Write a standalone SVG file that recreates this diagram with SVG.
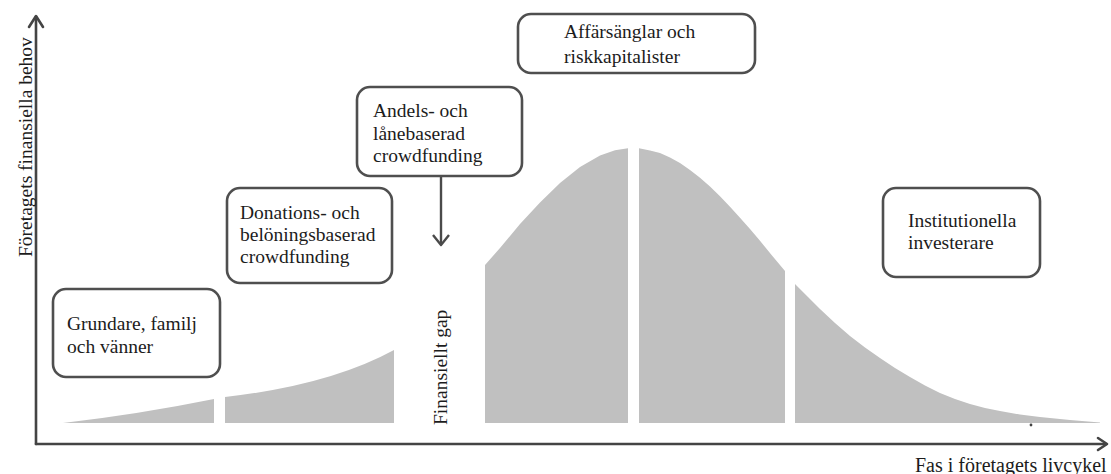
<svg xmlns="http://www.w3.org/2000/svg" width="1111" height="474" viewBox="0 0 1111 474">
<defs>
<style>
.box{fill:#ffffff;stroke:#4f4f4f;stroke-width:2.6}
.t{font-family:"Liberation Serif","Times New Roman",serif;font-size:19.5px;fill:#1c1c1c}
.ax{fill:none;stroke:#444;stroke-width:2.6;stroke-linecap:round;stroke-linejoin:round}
.area{fill:#c0c0c0;stroke:none}
.conn{fill:none;stroke:#4a4a4a;stroke-width:2.4;stroke-linejoin:round}
</style>
</defs>
<rect width="1111" height="474" fill="#ffffff"/>
<g id="axes">
<path class="ax" d="M36,444 L36,17"/>
<path class="ax" d="M29,27 L36,16 L43,27"/>
<path class="ax" d="M36,444 L1106,444"/>
<path class="ax" d="M1098,438 L1107,444 L1098,450"/>
<text class="t" transform="translate(32,257) rotate(-90)">Företagets finansiella behov</text>
<text class="t" x="915" y="472" style="font-size:20px">Fas i företagets livcykel</text>
</g>
<g id="curve">
<path class="area" d="M63,423 Q140,414 214,399 L214,423 Z"/>
<path class="area" d="M225,423 L225,397 Q330,385 394,350 L394,423 Z"/>
<path class="area" d="M485,423 L485,265 L500,248 L520,224 L540,202.5 L560,183 L580,167 L600,155.5 L615,150.3 L628,148.2 L628,423 Z"/>
<path class="area" d="M639,423 L639,148.3 L650,150.5 L660,153.1 L670,157.5 L680,163.1 L690,170 L700,177.8 L710,186.5 L720,196.3 L730,206.8 L740,217.7 L750,229 L760,240.8 L772,255.5 L785,271 L785,423 Z"/>
<path class="area" d="M795,423 L795,284 L808,297 L820,309 L835,323 L850,336 L865,347.5 L880,358 L895,368 L910,377 L925,385.5 L940,393 L955,399 L970,404 L985,408 L1000,411 L1020,414.5 L1040,417 L1070,420 L1100,422.5 L1100,423 Z"/>
<circle cx="1031" cy="425" r="1.4" fill="#444"/>
<text class="t" transform="translate(447,425) rotate(-90)">Finansiellt gap</text>
</g>
<g id="connectors">
<path class="conn" d="M441,176 L441,244"/>
<path class="conn" d="M433,235 L441,245 L449,235"/>
</g>
<g id="node-grundare">
<rect class="box" x="53" y="289" width="167" height="88" rx="13"/>
<text class="t" x="67" y="330">Grundare, familj</text>
<text class="t" x="67" y="353">och vänner</text>
</g>
<g id="node-donations">
<rect class="box" x="227" y="188" width="165" height="95" rx="13"/>
<text class="t" x="240" y="219">Donations- och</text>
<text class="t" x="240" y="241">belöningsbaserad</text>
<text class="t" x="240" y="263">crowdfunding</text>
</g>
<g id="node-andels">
<rect class="box" x="357" y="87" width="165" height="89" rx="13"/>
<text class="t" x="373" y="117">Andels- och</text>
<text class="t" x="373" y="140">lånebaserad</text>
<text class="t" x="373" y="162">crowdfunding</text>
</g>
<g id="node-affarsanglar">
<rect class="box" x="518" y="14" width="237" height="59" rx="13"/>
<text class="t" x="564" y="38">Affärsänglar och</text>
<text class="t" x="564" y="63">riskkapitalister</text>
</g>
<g id="node-institutionella">
<rect class="box" x="883" y="188" width="157" height="89" rx="13"/>
<text class="t" x="908" y="227">Institutionella</text>
<text class="t" x="908" y="249">investerare</text>
</g>
</svg>
